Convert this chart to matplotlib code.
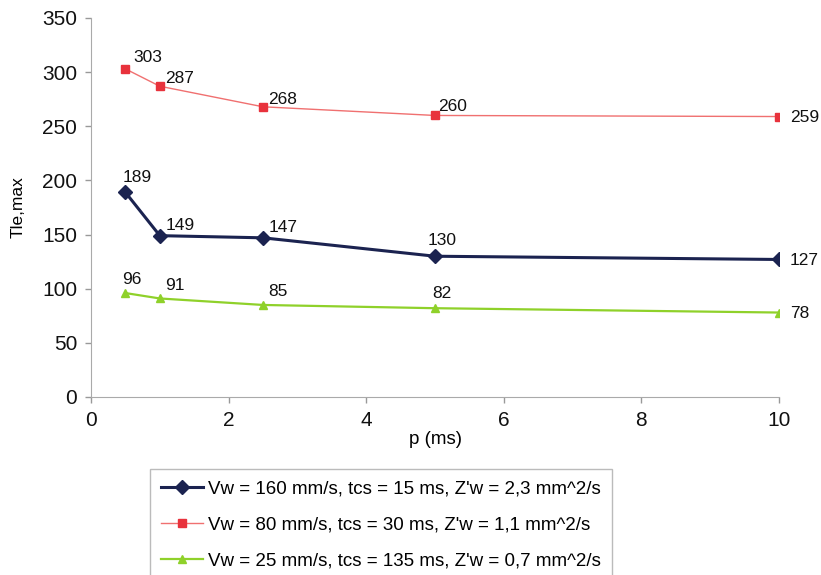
import matplotlib
matplotlib.use("Agg")
import matplotlib.pyplot as plt

plt.rcParams['font.family'] = ['Liberation Sans', 'DejaVu Sans']

p_ms = [0.5, 1, 2.5, 5, 10]
blue_vals = [189, 149, 147, 130, 127]
red_vals = [303, 287, 268, 260, 259]
green_vals = [96, 91, 85, 82, 78]
labels = ["Vw = 160 mm/s, tcs = 15 ms, Z'w = 2,3 mm^2/s",
          "Vw = 80 mm/s, tcs = 30 ms, Z'w = 1,1 mm^2/s",
          "Vw = 25 mm/s, tcs = 135 ms, Z'w = 0,7 mm^2/s"]
xticks = [0, 2, 4, 6, 8, 10]
yticks = [0, 50, 100, 150, 200, 250, 300, 350]

fig = plt.figure(figsize=(8.21, 5.75), dpi=100)
ax = fig.add_axes([91/821, 1-397/575, (779-91)/821, (397-18)/575])

c_blue = '#1b2350'
c_red = '#e8323c'
c_green = '#8fd12a'

l1, = ax.plot(p_ms, blue_vals, color=c_blue, lw=2.2, marker='D', ms=7, label=labels[0])
l2, = ax.plot(p_ms, red_vals, color='#f07070', lw=1.0, marker='s', ms=6,
              mfc=c_red, mec=c_red, label=labels[1])
l3, = ax.plot(p_ms, green_vals, color=c_green, lw=1.6, marker='^', ms=6, label=labels[2])

def annotate(xs, ys, offsets):
    for i, (x, y, off) in enumerate(zip(xs, ys, offsets)):
        last = i == len(xs) - 1
        ax.annotate(str(y), (x, y), xytext=off, textcoords='offset points',
                    fontsize=12.5, color='#111111', ha='left',
                    va='center' if last else 'bottom')

annotate(p_ms, red_vals, [(6, 3), (4, 0), (4, 0), (2, 1), (8, -1)])
annotate(p_ms, blue_vals, [(-2, 5), (4, 2), (4, 2), (-5, 6), (8, -1)])
annotate(p_ms, green_vals, [(-2, 4), (4, 4), (4, 4), (-2, 5), (8, -1)])

ax.set_xlim(0, 10)
ax.set_ylim(0, 350)
ax.set_xticks(xticks)
ax.set_yticks(yticks)
ax.tick_params(labelsize=15, colors='#999999', labelcolor='#111111', length=4, width=1, pad=6)
for s in ['top', 'right']:
    ax.spines[s].set_visible(False)
for s in ['left', 'bottom']:
    ax.spines[s].set_color('#aaaaaa')
ax.set_xlabel('p (ms)', fontsize=13.5, labelpad=1)
ax.set_ylabel('Tle,max', fontsize=12.5, labelpad=12)

leg = fig.legend(handles=[l1, l2, l3], loc='upper left',
                 bbox_to_anchor=(150/821, 1-469/575), fontsize=13.5,
                 frameon=True, fancybox=False, edgecolor='#aaaaaa',
                 handlelength=2.2, handletextpad=0.3, borderpad=0.6,
                 labelspacing=1.0, borderaxespad=0)
leg.get_frame().set_linewidth(1.0)

fig.savefig('out.png', dpi=100)
